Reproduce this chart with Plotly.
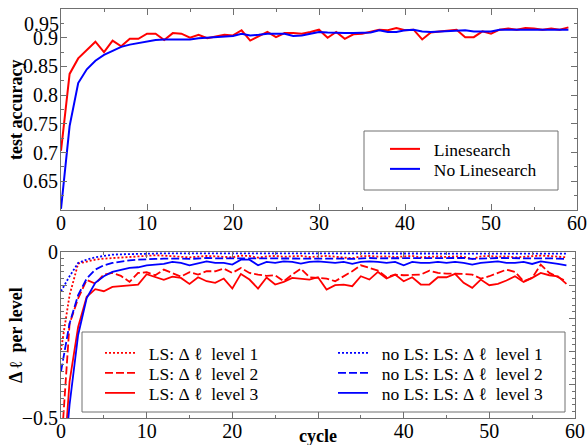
import plotly.graph_objects as go

# ---------------- data ----------------
cycles = list(range(60))

acc_linesearch = [0.703, 0.837, 0.864, 0.878, 0.893, 0.875, 0.895, 0.885, 0.898, 0.898,
                  0.907, 0.907, 0.896, 0.908, 0.907, 0.900, 0.905, 0.899, 0.902, 0.905,
                  0.904, 0.913, 0.895, 0.903, 0.910, 0.901, 0.908, 0.908, 0.907, 0.910,
                  0.914, 0.900, 0.910, 0.898, 0.906, 0.907, 0.910, 0.914, 0.913, 0.917,
                  0.913, 0.914, 0.897, 0.909, 0.911, 0.913, 0.914, 0.901, 0.901, 0.911,
                  0.907, 0.914, 0.916, 0.914, 0.917, 0.916, 0.914, 0.916, 0.914, 0.918]
acc_no_linesearch = [0.602, 0.746, 0.821, 0.845, 0.860, 0.870, 0.877, 0.884, 0.888, 0.891,
                     0.894, 0.896, 0.897, 0.897, 0.897, 0.897, 0.899, 0.900, 0.901, 0.901,
                     0.903, 0.907, 0.904, 0.905, 0.907, 0.907, 0.907, 0.903, 0.904, 0.907,
                     0.910, 0.909, 0.908, 0.908, 0.908, 0.908, 0.909, 0.913, 0.910, 0.910,
                     0.913, 0.914, 0.911, 0.910, 0.911, 0.911, 0.913, 0.913, 0.911, 0.911,
                     0.911, 0.914, 0.914, 0.914, 0.914, 0.914, 0.914, 0.914, 0.914, 0.914]

dl_ls_level1 = [-0.295, -0.130, -0.035, -0.028, -0.023, -0.020, -0.018, -0.018, -0.016, -0.013,
                -0.010, -0.010, -0.011, -0.012, -0.013, -0.016, -0.014, -0.012, -0.013, -0.014,
                -0.016, -0.011, -0.012, -0.017, -0.013, -0.012, -0.014, -0.013, -0.012, -0.015,
                -0.013, -0.012, -0.014, -0.016, -0.019, -0.013, -0.012, -0.014, -0.013, -0.015,
                -0.014, -0.012, -0.016, -0.014, -0.013, -0.015, -0.013, -0.014, -0.021, -0.013,
                -0.012, -0.014, -0.013, -0.016, -0.014, -0.013, -0.011, -0.012, -0.015, -0.016]
dl_ls_level2 = [-0.600, -0.216, -0.140, -0.084, -0.095, -0.068, -0.063, -0.072, -0.090, -0.063,
                -0.061, -0.070, -0.053, -0.063, -0.074, -0.061, -0.068, -0.058, -0.058, -0.050,
                -0.063, -0.048, -0.063, -0.068, -0.072, -0.070, -0.088, -0.068, -0.050, -0.076,
                -0.078, -0.080, -0.088, -0.073, -0.058, -0.040, -0.048, -0.056, -0.076, -0.068,
                -0.070, -0.070, -0.068, -0.056, -0.063, -0.065, -0.065, -0.066, -0.068, -0.080,
                -0.073, -0.063, -0.053, -0.060, -0.088, -0.078, -0.038, -0.063, -0.076, -0.088]
dl_ls_level3 = [-0.750, -0.390, -0.226, -0.135, -0.112, -0.118, -0.105, -0.102, -0.100, -0.098,
                -0.067, -0.076, -0.084, -0.074, -0.078, -0.096, -0.076, -0.088, -0.093, -0.080,
                -0.110, -0.066, -0.083, -0.110, -0.077, -0.098, -0.090, -0.078, -0.080, -0.083,
                -0.076, -0.113, -0.100, -0.098, -0.103, -0.073, -0.083, -0.060, -0.080, -0.068,
                -0.088, -0.076, -0.098, -0.098, -0.076, -0.076, -0.066, -0.093, -0.108, -0.083,
                -0.100, -0.096, -0.086, -0.073, -0.090, -0.078, -0.063, -0.070, -0.073, -0.096]
dl_nols_level1 = [-0.118, -0.073, -0.033, -0.023, -0.016, -0.011, -0.008, -0.007, -0.006, -0.005,
                  -0.005, -0.005, -0.004, -0.004, -0.005, -0.004, -0.004, -0.005, -0.004, -0.004,
                  -0.005, -0.004, -0.004, -0.004, -0.005, -0.004, -0.004, -0.004, -0.005, -0.004,
                  -0.004, -0.005, -0.004, -0.004, -0.004, -0.005, -0.004, -0.004, -0.005, -0.004,
                  -0.004, -0.004, -0.005, -0.004, -0.004, -0.005, -0.004, -0.004, -0.004, -0.005,
                  -0.004, -0.004, -0.005, -0.004, -0.004, -0.004, -0.005, -0.004, -0.004, -0.005]
dl_nols_level2 = [-0.360, -0.215, -0.130, -0.080, -0.053, -0.040, -0.033, -0.028, -0.025, -0.023,
                  -0.021, -0.021, -0.020, -0.019, -0.020, -0.021, -0.019, -0.018, -0.019, -0.019,
                  -0.020, -0.018, -0.018, -0.020, -0.019, -0.019, -0.018, -0.019, -0.020, -0.019,
                  -0.018, -0.019, -0.019, -0.020, -0.021, -0.019, -0.018, -0.019, -0.019, -0.020,
                  -0.019, -0.018, -0.020, -0.019, -0.019, -0.020, -0.019, -0.018, -0.021, -0.019,
                  -0.019, -0.018, -0.019, -0.020, -0.019, -0.019, -0.018, -0.019, -0.020, -0.021]
dl_nols_level3 = [-0.750, -0.460, -0.250, -0.139, -0.093, -0.073, -0.060, -0.053, -0.048, -0.046,
                  -0.040, -0.038, -0.036, -0.030, -0.033, -0.040, -0.033, -0.028, -0.033, -0.033,
                  -0.038, -0.023, -0.023, -0.040, -0.030, -0.033, -0.028, -0.030, -0.035, -0.030,
                  -0.028, -0.030, -0.033, -0.030, -0.036, -0.030, -0.028, -0.030, -0.033, -0.030,
                  -0.040, -0.030, -0.033, -0.033, -0.030, -0.033, -0.030, -0.033, -0.038, -0.033,
                  -0.030, -0.028, -0.033, -0.033, -0.030, -0.036, -0.028, -0.033, -0.036, -0.040]

acc_ticks = [0.65, 0.7, 0.75, 0.8, 0.85, 0.9]
acc_tick_text = ["0.65", "0.7", "0.75", "0.8", "0.85", "0.9"]
cycle_ticks = [0, 10, 20, 30, 40, 50, 60]
top_cycle_text = ["0", "10", "20", "30", "40", "50", "60"]
bottom_cycle_text = ["0", "10", "20", "", "40", "50", "60"]
dl_ticks = [0, -0.1, -0.2, -0.3, -0.4, -0.5]
dl_tick_text = ["0", "", "", "", "", "\u22120.5"]

# ---------------- styling ----------------
W, H = 587, 445
FONT = "Liberation Serif"
RED = "#ff0000"
BLUE = "#0000ff"
FRAME = "#707070"
NB = "\u00a0"


def fx(p):
    return p / W


def fy(p):
    return 1 - p / H


fig = go.Figure()

# top panel
fig.add_trace(go.Scatter(x=cycles, y=acc_linesearch, mode="lines", name=NB * 2 + "Linesearch",
                         line=dict(color=RED, width=2), xaxis="x", yaxis="y", legend="legend"))
fig.add_trace(go.Scatter(x=cycles, y=acc_no_linesearch, mode="lines", name=NB * 2 + "No Linesearch",
                         line=dict(color=BLUE, width=2), xaxis="x", yaxis="y", legend="legend2"))

# bottom panel
lbl = "\u0394" + NB + "\u2113" + NB + NB + "level "
pre = NB * 2
bottom_series = [
    (dl_ls_level1, RED, "2px,2px", pre + "LS: " + lbl + "1", "legend3"),
    (dl_ls_level2, RED, "8px,3px", pre + "LS: " + lbl + "2", "legend4"),
    (dl_ls_level3, RED, "solid", pre + "LS: " + lbl + "3", "legend5"),
    (dl_nols_level1, BLUE, "2px,2px", pre + "no LS: LS: " + lbl + "1", "legend6"),
    (dl_nols_level2, BLUE, "8px,3px", pre + "no LS: LS: " + lbl + "2", "legend7"),
    (dl_nols_level3, BLUE, "solid", pre + "no LS: LS: " + lbl + "3", "legend8"),
]
for vals, col, dash, name, lg in bottom_series:
    fig.add_trace(go.Scatter(x=cycles, y=vals, mode="lines", name=name,
                             line=dict(color=col, width=1.8, dash=dash),
                             xaxis="x2", yaxis="y2", legend=lg))

axis_common = dict(showline=True, linecolor=FRAME, linewidth=1, mirror="ticks",
                   ticks="inside", ticklen=6, tickcolor=FRAME, showgrid=False,
                   zeroline=False, automargin=False,
                   tickfont=dict(family=FONT, size=20, color="black"))
xstand = -5
ystand = -2

layout = dict(
    width=W, height=H, margin=dict(l=0, r=0, t=0, b=0, pad=0, autoexpand=False), autosize=False,
    showlegend=True,
    paper_bgcolor="white", plot_bgcolor="white",
    font=dict(family=FONT, size=17.5, color="black"),
    xaxis=dict(domain=[fx(61), fx(577)], range=[0, 60], anchor="y", ticklabelstandoff=xstand,
               tickvals=cycle_ticks, ticktext=top_cycle_text,
               minor=dict(dtick=5, ticks="inside", ticklen=3, tickcolor=FRAME), **axis_common),
    yaxis=dict(domain=[fy(210), fy(9)], range=[0.6, 0.95], anchor="x", ticklabelstandoff=ystand,
               tickvals=acc_ticks, ticktext=acc_tick_text,
               minor=dict(tick0=0.6, dtick=0.025, ticks="inside", ticklen=3, tickcolor=FRAME), **axis_common),
    xaxis2=dict(domain=[fx(61), fx(575)], range=[0, 60], anchor="y2", ticklabelstandoff=xstand,
                tickvals=cycle_ticks, ticktext=bottom_cycle_text,
                minor=dict(dtick=5, ticks="inside", ticklen=3, tickcolor=FRAME), **axis_common),
    yaxis2=dict(domain=[fy(418), fy(252)], range=[-0.5, 0], anchor="x2", ticklabelstandoff=ystand,
                tickvals=dl_ticks, ticktext=dl_tick_text,
                minor=dict(tick0=0, dtick=0.02, ticks="inside", ticklen=3, tickcolor=FRAME), **axis_common),
)

leg_common = dict(bgcolor="rgba(0,0,0,0)", borderwidth=0, xanchor="left", yanchor="middle",
                  font=dict(family=FONT, size=17.5, color="black"), itemclick=False,
                  itemdoubleclick=False, visible=True)
legend_pos = {
    "legend": (385, 149), "legend2": (385, 169),
    "legend3": (100, 353), "legend4": (100, 373), "legend5": (100, 393),
    "legend6": (333, 353), "legend7": (333, 373), "legend8": (333, 393),
}
for key, (lx, ly) in legend_pos.items():
    layout[key] = dict(x=fx(lx), y=fy(ly), **leg_common)

fig.update_layout(**layout)

# legend boxes
fig.add_shape(type="rect", xref="paper", yref="paper", x0=fx(364), x1=fx(558), y0=fy(190), y1=fy(131),
              line=dict(color=FRAME, width=1), fillcolor="white", layer="above")
fig.add_shape(type="rect", xref="paper", yref="paper", x0=fx(82), x1=fx(565), y0=fy(412), y1=fy(332),
              line=dict(color=FRAME, width=1), fillcolor="white", layer="above")

# texts
ann = dict(xref="paper", yref="paper", showarrow=False, xanchor="center", yanchor="middle")
fig.add_annotation(text="<b>test accuracy</b>", x=fx(16), y=fy(110), textangle=-90,
                   font=dict(family=FONT, size=18), **ann)
fig.add_annotation(text="<b>\u0394 \u2113" + NB + NB + "per level</b>", x=fx(16), y=fy(335),
                   textangle=-90, font=dict(family=FONT, size=18), **ann)
fig.add_annotation(text="<b>cycle</b>", x=fx(318), y=fy(436), font=dict(family=FONT, size=18), **ann)
ann_r = dict(ann)
ann_r["xanchor"] = "right"
fig.add_annotation(text="0.95", x=fx(61), y=fy(24), font=dict(family=FONT, size=20), **ann_r)

fig.write_html("out.html")
